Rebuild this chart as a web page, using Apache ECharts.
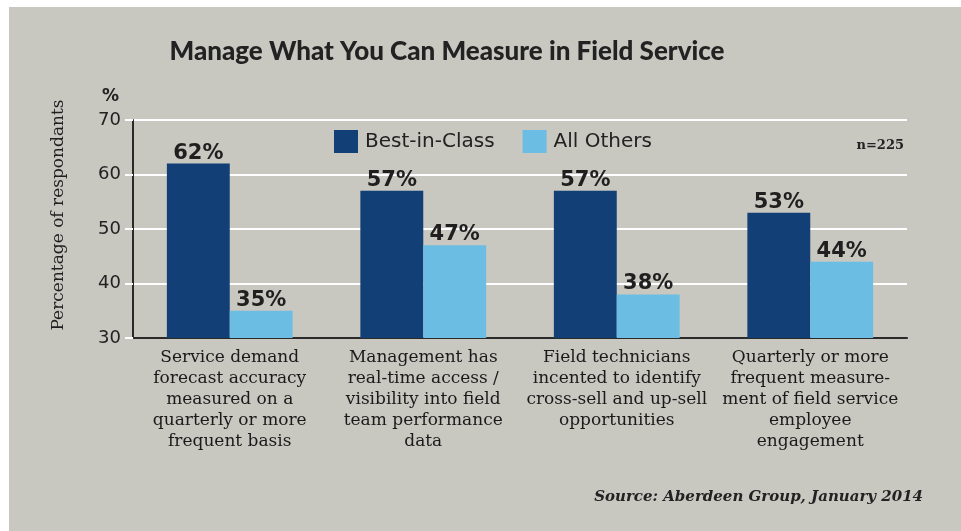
<!DOCTYPE html>
<html>
<head>
<meta charset="utf-8">
<script src="https://cdn.jsdelivr.net/npm/echarts@6/dist/echarts.min.js"></script>
<style>
html,body{margin:0;padding:0;background:#ffffff;}
#wrap{position:absolute;left:9px;top:7px;right:0;bottom:0;background:#c8c7c0;}
#chart{position:absolute;left:0;top:0;width:961px;height:531px;}
</style>
</head>
<body>
<div id="wrap"></div>
<div id="chart"></div>
<script>
const categories = [
  "Service demand\nforecast accuracy\nmeasured on a\nquarterly or more\nfrequent basis",
  "Management has\nreal-time access /\nvisibility into field\nteam performance\ndata",
  "Field technicians\nincented to identify\ncross-sell and up-sell\nopportunities",
  "Quarterly or more\nfrequent measure-\nment of field service\nemployee\nengagement"
];
const bestInClass = [62, 57, 57, 53];
const allOthers = [35, 47, 38, 44];
const seriesNames = ["Best-in-Class", "All Others"];
const yTicks = [30, 40, 50, 60, 70];

const chart = echarts.init(document.getElementById('chart'), null, {renderer: 'canvas'});
const labelStyle = {
  show: true, position: 'top', distance: 0,
  formatter: p => p.value + '%',
  fontFamily: 'DejaVu Sans', fontWeight: 'bold', fontSize: 21, color: '#1f1f1f'
};
chart.setOption({
  backgroundColor: 'transparent',
  animation: false,
  title: [
    {text: 'Manage What You Can Measure in Field Service', left: 442, top: 34, textAlign: 'center',
     textStyle: {fontFamily: 'Lato', fontWeight: 900, fontSize: 26, color: '#222'}},
    {text: '%', left: 102, top: 88, padding: 0, textStyle: {fontFamily: 'DejaVu Sans', fontWeight: 'bold', fontSize: 17, color: '#222'}},
    {text: 'n=225', right: 52, top: 134, textStyle: {fontFamily: 'DejaVu Serif', fontWeight: 'bold', fontSize: 13, color: '#222'}},
    {text: 'Source: Aberdeen Group, January 2014', right: 33, top: 485,
     textStyle: {fontFamily: 'DejaVu Serif', fontStyle: 'italic', fontWeight: 'bold', fontSize: 15, color: '#222'}}
  ],
  legend: {
    data: seriesNames, left: 334, top: 130, padding: 0, itemWidth: 24, itemHeight: 23, itemGap: 28,
    icon: 'rect',
    textStyle: {fontFamily: 'DejaVu Sans', fontSize: 20, color: '#222', padding: [0,0,0,2]}
  },
  grid: {left: 133, right: 54, top: 120, bottom: 193, containLabel: false},
  xAxis: {
    type: 'category', data: categories,
    axisLine: {lineStyle: {color: '#2a2a2a', width: 2}},
    axisTick: {show: false},
    axisLabel: {interval: 0, margin: 9, fontFamily: 'DejaVu Serif', fontSize: 17, lineHeight: 21,
      color: '#1a1a1a', align: 'center'}
  },
  yAxis: {
    type: 'value', min: 30, max: 70, interval: 10,
    name: 'Percentage of respondants', nameLocation: 'middle', nameGap: 66, nameRotate: 90,
    nameTextStyle: {fontFamily: 'DejaVu Serif', fontSize: 17, color: '#1f1f1f', padding: [0, 0, 0, 28]},
    axisLine: {show: true, lineStyle: {color: '#2a2a2a', width: 2}},
    axisTick: {show: true, length: 8, lineStyle: {color: '#ffffff', width: 2}},
    axisLabel: {fontFamily: 'DejaVu Sans', fontSize: 18, color: '#222', margin: 12,
      formatter: v => yTicks.includes(v) ? String(v) : ''},
    splitLine: {lineStyle: {color: '#ffffff', width: 2}}
  },
  series: [
    {name: seriesNames[0], type: 'bar', data: bestInClass, barGap: '0%', barCategoryGap: '35%',
     itemStyle: {color: '#123f75'}, label: labelStyle},
    {name: seriesNames[1], type: 'bar', data: allOthers,
     itemStyle: {color: '#6bbde3'}, label: labelStyle}
  ]
});
</script>
</body>
</html>
